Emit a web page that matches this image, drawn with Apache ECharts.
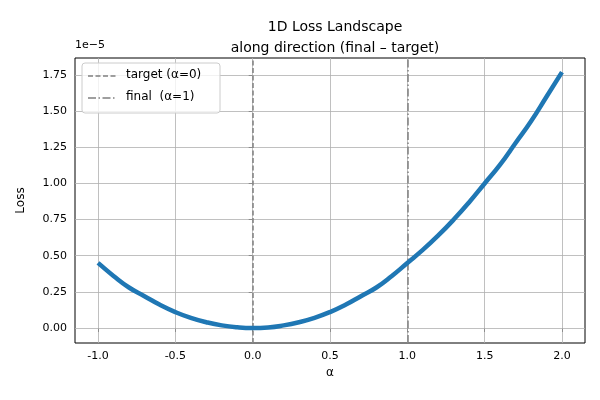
<!DOCTYPE html>
<html><head><meta charset="utf-8">
<script src="https://cdn.jsdelivr.net/npm/echarts@6/dist/echarts.min.js"></script>
<style>html,body{margin:0;padding:0;background:#fff}#c{width:600px;height:400px}</style>
</head><body><div id="c"></div>
<script>
const alphas = [-1.0,-0.9,-0.8,-0.7,-0.6,-0.5,-0.4,-0.3,-0.2,-0.1,0,0.1,0.2,0.3,0.4,0.5,0.6,0.7,0.8,0.9,1.0,1.1,1.2,1.3,1.4,1.5,1.6,1.7,1.8,1.9,2.0];
const loss = [0.45,0.36,0.28,0.22,0.16,0.11,0.07,0.04,0.018,0.005,0,0.004,0.018,0.04,0.07,0.11,0.16,0.22,0.28,0.36,0.45,0.54,0.64,0.75,0.87,1.00,1.13,1.28,1.43,1.60,1.77];
const xTicks = [-1.0,-0.5,0.0,0.5,1.0,1.5,2.0];
const yTicks = [0,0.25,0.5,0.75,1.0,1.25,1.5,1.75];
const F = 'DejaVu Sans';
const chart = echarts.init(document.getElementById('c'));
const gridLines = xTicks.map(v=>({xAxis:v})).concat(yTicks.map(v=>({yAxis:v})));
chart.setOption({
  animation:false,
  title:{text:'1D Loss Landscape\nalong direction (final – target)',left:330,top:12,textAlign:'center',
    textStyle:{fontFamily:F,fontSize:14,fontWeight:'normal',color:'#000',lineHeight:21}},
  grid:{left:75,right:15,top:58,bottom:57,show:true,borderColor:'#000',borderWidth:1,backgroundColor:'transparent'},
  xAxis:{type:'value',min:-1.149,max:2.149,name:'α',nameLocation:'middle',nameGap:24,
    nameTextStyle:{fontFamily:F,fontSize:12,color:'#000'},
    axisLine:{show:false},splitLine:{show:false},
    axisTick:{show:true,customValues:xTicks,length:4,lineStyle:{color:'#000'}},
    axisLabel:{customValues:xTicks,fontFamily:F,fontSize:11,color:'#000',formatter:v=>v.toFixed(1)}},
  yAxis:{type:'value',min:-0.104,max:1.868,name:'Loss',nameLocation:'middle',nameGap:48,
    nameTextStyle:{fontFamily:F,fontSize:12,color:'#000'},
    axisLine:{show:false},splitLine:{show:false},
    axisTick:{show:true,customValues:yTicks,length:4,lineStyle:{color:'#000'}},
    axisLabel:{customValues:yTicks,fontFamily:F,fontSize:11,color:'#000',formatter:v=>v.toFixed(2)}},
  graphic:[
    {type:'text',left:75,top:40,style:{text:'1e−5',fontFamily:F,fontSize:11,fill:'#000'}},
    {type:'rect',shape:{x:82,y:63,width:138,height:50,r:3},style:{fill:'rgba(255,255,255,0.8)',stroke:'#ccc',lineWidth:1},z:100},
    {type:'line',shape:{x1:88,y1:76,x2:116,y2:76},style:{stroke:'#808080',lineWidth:1.5,lineDash:[5,2.5]},z:101},
    {type:'text',x:126,y:69,style:{text:'target (α=0)',fontFamily:F,fontSize:12,fill:'#000'},z:101},
    {type:'line',shape:{x1:88,y1:98,x2:116,y2:98},style:{stroke:'#808080',lineWidth:1.5,lineDash:[8,2.5,1.5,2.5]},z:101},
    {type:'text',x:126,y:91,style:{text:'final  (α=1)',fontFamily:F,fontSize:12,fill:'#000'},z:101}
  ],
  series:[
    {type:'line',data:[],silent:true,markLine:{symbol:'none',silent:true,label:{show:false},
      lineStyle:{color:'#b0b0b0',width:0.8,type:'solid'},data:gridLines},z:1},
    {type:'line',data:[],silent:true,markLine:{symbol:'none',silent:true,label:{show:false},
      data:[{xAxis:0,lineStyle:{color:'#808080',width:1.5,type:[5,2.5]}},
            {xAxis:1,lineStyle:{color:'#808080',width:1.5,type:[8,2.5,1.5,2.5]}}]},z:3},
    {type:'line',data:alphas.map((a,i)=>[a,loss[i]]),smooth:true,showSymbol:false,
      lineStyle:{color:'#1f77b4',width:4.5},z:5}
  ]
});
</script></body></html>
